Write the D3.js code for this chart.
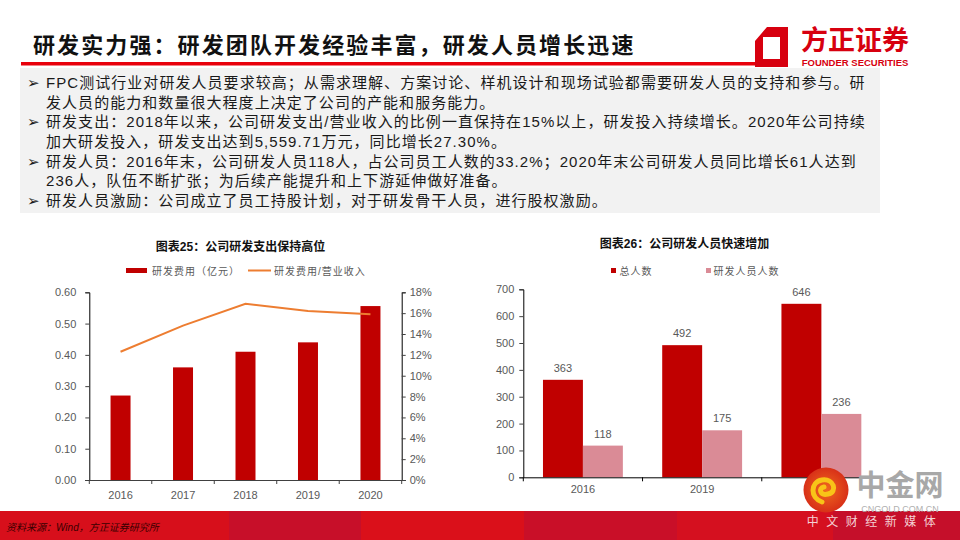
<!DOCTYPE html>
<html>
<head>
<meta charset="utf-8">
<script src="https://cdn.jsdelivr.net/npm/d3@7"></script>
<style>
  body { margin: 0; background: #fff; }
  svg { display: block; }
  .cjk { font-family: "Liberation Sans", "Noto Sans CJK SC", sans-serif; }
  .tick text { font-family: "Liberation Sans", "Noto Sans CJK SC", sans-serif; }
</style>
</head>
<body>
<svg id="chart" width="960" height="540"></svg>
<script>
// --- data
const headline = '研发实力强：研发团队开发经验丰富，研发人员增长迅速';
const bulletLines = [
  'FPC测试行业对研发人员要求较高；从需求理解、方案讨论、样机设计和现场试验都需要研发人员的支持和参与。研',
  '发人员的能力和数量很大程度上决定了公司的产能和服务能力。',
  '研发支出：2018年以来，公司研发支出/营业收入的比例一直保持在15%以上，研发投入持续增长。2020年公司持续',
  '加大研发投入，研发支出达到5,559.71万元，同比增长27.30%。',
  '研发人员：2016年末，公司研发人员118人，占公司员工人数的33.2%；2020年末公司研发人员同比增长61人达到',
  '236人，队伍不断扩张；为后续产能提升和上下游延伸做好准备。',
  '研发人员激励：公司成立了员工持股计划，对于研发骨干人员，进行股权激励。'
];
const bulletStarts = [true, false, true, false, true, false, true];

const expenseYears = ['2016', '2017', '2018', '2019', '2020'];
const expenseValues = [0.27, 0.36, 0.41, 0.44, 0.556];     // 亿元
const expenseRatio = [12.3, 14.8, 16.9, 16.2, 15.9];       // %
const expenseTicks = [0, 0.1, 0.2, 0.3, 0.4, 0.5, 0.6];
const ratioTicks = [0, 2, 4, 6, 8, 10, 12, 14, 16, 18];

const staffYears = ['2016', '2019', '2020'];
const staffTotal = [363, 492, 646];
const staffRD = [118, 175, 236];
const staffTicks = [0, 100, 200, 300, 400, 500, 600, 700];

const RED = '#c00000';
const PINK = '#da8b96';
const ORANGE = '#ed7d31';
const GREY = '#595959';

const svg = d3.select('#chart');

// --- header
svg.append('text')
  .attr('class', 'cjk')
  .attr('x', 33).attr('y', 53)
  .attr('font-size', 22).attr('font-weight', 700)
  .attr('letter-spacing', 2.1)
  .attr('fill', '#111')
  .text(headline);

svg.append('rect')
  .attr('x', 21).attr('y', 62).attr('width', 734).attr('height', 3.5)
  .attr('fill', '#e8000b');

// logo
const logo = svg.append('g');
logo.append('path')
  .attr('d', 'M767,27 L788,27 L788,67 L755,67 L755,41 Z M763,37 L763,59 L780,59 L780,37 Z')
  .attr('fill', '#d7000f').attr('fill-rule', 'evenodd');
logo.append('text')
  .attr('class', 'cjk')
  .attr('x', 855).attr('y', 50)
  .attr('text-anchor', 'middle')
  .attr('font-size', 27).attr('font-weight', 700)
  .attr('fill', '#d7000f')
  .text('方正证券');
logo.append('text')
  .attr('x', 855).attr('y', 66)
  .attr('text-anchor', 'middle')
  .attr('font-family', '"Liberation Sans Narrow", "Liberation Sans", sans-serif')
  .attr('font-size', 9.5).attr('font-weight', 700)
  .attr('fill', '#d7000f')
  .text('FOUNDER SECURITIES');

// --- bullet box
svg.append('rect')
  .attr('x', 20).attr('y', 68).attr('width', 860).attr('height', 145)
  .attr('fill', '#f2f2f2');

const lineY = d3.scaleLinear().domain([0, bulletLines.length - 1]).range([88, 206]);

const bullets = svg.append('g').attr('class', 'cjk').attr('font-size', 15).attr('fill', '#1a1a1a');
bulletLines.forEach((line, i) => {
  if (bulletStarts[i]) {
    bullets.append('text')
      .attr('x', 27).attr('y', lineY(i))
      .attr('font-family', '"DejaVu Sans", sans-serif')
      .attr('font-size', 15)
      .text('➢');
  }
  bullets.append('text')
    .attr('x', 46).attr('y', lineY(i))
    .attr('letter-spacing', 1.05)
    .text(line);
});

// --- left chart: 研发费用
function styleAxis(g) {
  g.selectAll('.domain').attr('stroke', '#404040');
  g.selectAll('.tick line').attr('stroke', '#404040');
  g.selectAll('.tick text').attr('fill', GREY).attr('font-size', 11);
}

const c1 = { left: 89.3, right: 401.7, top: 292.3, bottom: 480 };

svg.append('text')
  .attr('class', 'cjk')
  .attr('x', 240.5).attr('y', 250.5)
  .attr('text-anchor', 'middle')
  .attr('font-size', 12).attr('font-weight', 700).attr('fill', '#111')
  .text('图表25：公司研发支出保持高位');

const x1 = d3.scaleBand().domain(expenseYears).range([c1.left, c1.right]).paddingInner(0.68).paddingOuter(0.34);
const y1 = d3.scaleLinear().domain([0, 0.6]).range([c1.bottom, c1.top]);
const y1r = d3.scaleLinear().domain([0, 18]).range([c1.bottom, c1.top]);

svg.append('g')
  .selectAll('rect')
  .data(expenseValues)
  .join('rect')
  .attr('x', (d, i) => x1(expenseYears[i]))
  .attr('y', d => y1(d))
  .attr('width', x1.bandwidth())
  .attr('height', d => c1.bottom - y1(d))
  .attr('fill', RED);

svg.append('path')
  .datum(expenseRatio)
  .attr('fill', 'none')
  .attr('stroke', ORANGE)
  .attr('stroke-width', 2)
  .attr('d', d3.line()
    .x((d, i) => x1(expenseYears[i]) + x1.bandwidth() / 2)
    .y(d => y1r(d)));

svg.append('g')
  .attr('transform', `translate(${c1.left},0)`)
  .call(d3.axisLeft(y1).tickValues(expenseTicks).tickSize(4).tickPadding(9).tickFormat(d3.format('.2f')))
  .call(styleAxis)
  .call(g => g.selectAll('.domain').attr('stroke', '#000'));

svg.append('g')
  .attr('transform', `translate(${c1.right},0)`)
  .call(d3.axisRight(y1r).tickValues(ratioTicks).tickSize(4).tickPadding(4).tickFormat(d => d + '%'))
  .call(styleAxis)
  .call(g => g.selectAll('.domain').attr('stroke', '#000'));

const xa1 = svg.append('g')
  .attr('transform', `translate(0,${c1.bottom})`)
  .call(d3.axisBottom(x1).tickSize(0).tickPadding(11))
  .call(styleAxis);
xa1.selectAll('.bound')
  .data(d3.range(expenseYears.length + 1))
  .join('line')
  .attr('x1', i => c1.left + x1.step() * i)
  .attr('x2', i => c1.left + x1.step() * i)
  .attr('y1', 0).attr('y2', 4)
  .attr('stroke', '#404040');

// legend 1
const lg1 = svg.append('g').attr('class', 'cjk').attr('font-size', 10).attr('fill', GREY);
lg1.append('rect').attr('x', 126).attr('y', 268).attr('width', 21).attr('height', 5).attr('fill', RED);
lg1.append('text').attr('x', 152).attr('y', 274.5).attr('letter-spacing', 1).text('研发费用（亿元）');
lg1.append('line').attr('x1', 248).attr('x2', 271).attr('y1', 270.5).attr('y2', 270.5)
  .attr('stroke', ORANGE).attr('stroke-width', 2);
lg1.append('text').attr('x', 274).attr('y', 274.5).attr('letter-spacing', 1).text('研发费用/营业收入');

// --- right chart: 研发人员
const c2 = { left: 523.3, right: 881, top: 289.3, bottom: 477.3 };

svg.append('text')
  .attr('class', 'cjk')
  .attr('x', 684.5).attr('y', 247.5)
  .attr('text-anchor', 'middle')
  .attr('font-size', 12).attr('font-weight', 700).attr('fill', '#111')
  .text('图表26：公司研发人员快速增加');

const x2 = d3.scaleBand().domain(staffYears).range([c2.left, c2.right]).paddingInner(0.33).paddingOuter(0.165);
const xSub = d3.scaleBand().domain(['total', 'rd']).range([0, x2.bandwidth()]);
const y2 = d3.scaleLinear().domain([0, 700]).range([c2.bottom, c2.top]);

const series = [
  { key: 'total', values: staffTotal, color: RED },
  { key: 'rd', values: staffRD, color: PINK }
];

series.forEach(s => {
  const g = svg.append('g');
  g.selectAll('rect')
    .data(s.values)
    .join('rect')
    .attr('x', (d, i) => x2(staffYears[i]) + xSub(s.key))
    .attr('y', d => y2(d))
    .attr('width', xSub.bandwidth())
    .attr('height', d => c2.bottom - y2(d))
    .attr('fill', s.color);
  g.selectAll('text')
    .data(s.values)
    .join('text')
    .attr('x', (d, i) => x2(staffYears[i]) + xSub(s.key) + xSub.bandwidth() / 2)
    .attr('y', d => y2(d) - 8)
    .attr('text-anchor', 'middle')
    .attr('font-family', '"Liberation Sans", sans-serif')
    .attr('font-size', 11)
    .attr('fill', GREY)
    .text(d => d);
});

svg.append('g')
  .attr('transform', `translate(${c2.left},0)`)
  .call(d3.axisLeft(y2).tickValues(staffTicks).tickSize(4).tickPadding(5))
  .call(styleAxis)
  .call(g => g.selectAll('.domain').attr('stroke', '#000'));

const xa2 = svg.append('g')
  .attr('transform', `translate(0,${c2.bottom})`)
  .call(d3.axisBottom(x2).tickSize(0).tickPadding(8))
  .call(styleAxis)
  .call(g => g.selectAll('.domain').attr('stroke', '#000'));
xa2.selectAll('.bound')
  .data(d3.range(staffYears.length + 1))
  .join('line')
  .attr('x1', i => c2.left + x2.step() * i)
  .attr('x2', i => c2.left + x2.step() * i)
  .attr('y1', 0).attr('y2', 4)
  .attr('stroke', '#000');

// legend 2
const lg2 = svg.append('g').attr('class', 'cjk').attr('font-size', 10).attr('fill', GREY);
lg2.append('rect').attr('x', 611).attr('y', 268).attr('width', 5).attr('height', 5).attr('fill', RED);
lg2.append('text').attr('x', 619.5).attr('y', 275).attr('letter-spacing', 1).text('总人数');
lg2.append('rect').attr('x', 706).attr('y', 268).attr('width', 5).attr('height', 5).attr('fill', PINK);
lg2.append('text').attr('x', 713.5).attr('y', 275).attr('letter-spacing', 1).text('研发人员人数');

// --- footer band
const footerPanels = [
  { x0: 0, x1: 229, c: '#d70f1b' },
  { x0: 229, x1: 361, c: '#c70f29' },
  { x0: 361, x1: 524, c: '#da101a' },
  { x0: 524, x1: 677, c: '#c90f28' },
  { x0: 677, x1: 833, c: '#d5101f' },
  { x0: 833, x1: 960, c: '#c50f2a' }
];
svg.append('g').selectAll('rect')
  .data(footerPanels)
  .join('rect')
  .attr('x', d => d.x0).attr('y', 511)
  .attr('width', d => d.x1 - d.x0).attr('height', 29)
  .attr('fill', d => d.c);

svg.append('text')
  .attr('class', 'cjk')
  .attr('x', 6).attr('y', 531)
  .attr('font-size', 10).attr('font-style', 'italic')
  .attr('fill', '#3a0000')
  .text('资料来源：Wind，方正证券研究所');

// --- watermark
const wm = svg.append('g');
const grad = svg.append('defs').append('radialGradient').attr('id', 'wmGrad');
grad.append('stop').attr('offset', '0%').attr('stop-color', '#f06a1e');
grad.append('stop').attr('offset', '100%').attr('stop-color', '#d83018');
wm.append('circle').attr('cx', 826).attr('cy', 490).attr('r', 22.5).attr('fill', 'url(#wmGrad)');
wm.append('path')
  .attr('d', 'M822,502 C810,498 810,482 822,480 C834,478 838,492 828,494 C820,496 818,488 824,487')
  .attr('fill', 'none').attr('stroke', '#f8c418').attr('stroke-width', 5).attr('stroke-linecap', 'round');
wm.append('text')
  .attr('class', 'cjk')
  .attr('x', 900).attr('y', 496)
  .attr('text-anchor', 'middle')
  .attr('font-size', 29).attr('font-weight', 700)
  .attr('fill', '#a8a8a8')
  .text('中金网');
wm.append('text')
  .attr('x', 900).attr('y', 512)
  .attr('text-anchor', 'middle')
  .attr('font-family', '"Liberation Sans", sans-serif')
  .attr('font-size', 9)
  .attr('fill', '#b0b0b0')
  .text('CNGOLD.COM.CN');
wm.append('text')
  .attr('class', 'cjk')
  .attr('x', 875).attr('y', 526)
  .attr('text-anchor', 'middle')
  .attr('font-size', 12)
  .attr('letter-spacing', 7.5)
  .attr('fill', '#f4d0d4')
  .text('中文财经新媒体');
</script>
</body>
</html>
